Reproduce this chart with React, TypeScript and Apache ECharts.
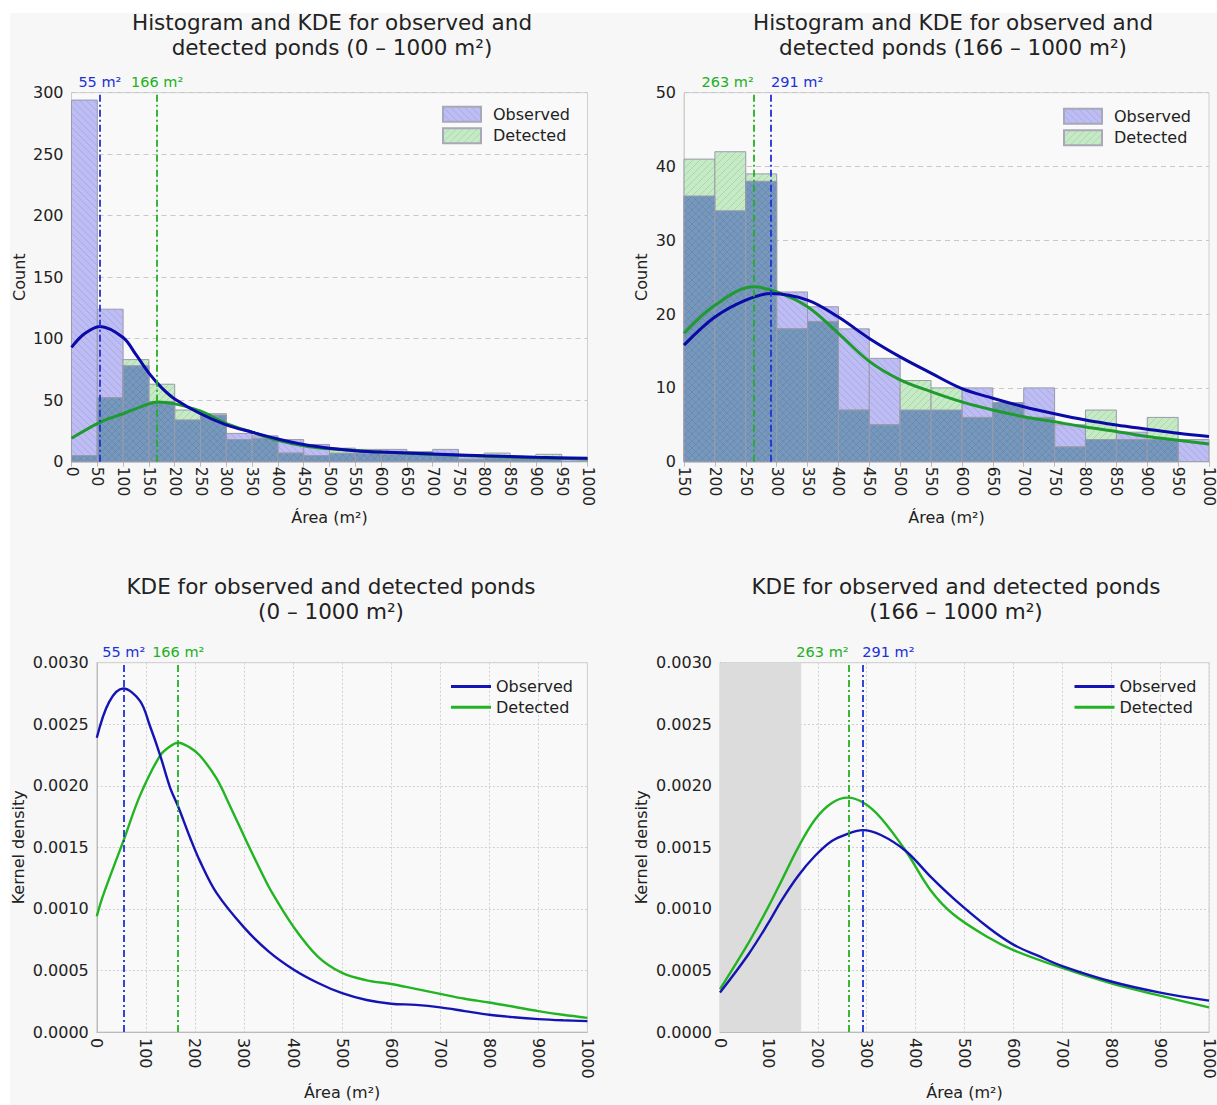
import React, { useEffect, useRef } from 'react';
import * as echarts from 'echarts';

const FONT = 'DejaVu Sans';

// ---------- Histogram data (top-left: 0 – 1000 m²) ----------
const tlBinEdges = [0, 50, 100, 150, 200, 250, 300, 350, 400, 450, 500, 550, 600, 650, 700, 750, 800, 850, 900, 950, 1000];
const tlObserved = [294, 124, 78, 49, 34, 38, 23, 21, 18, 14, 7, 7, 10, 8, 10, 5, 3, 4, 3, 3];
const tlDetected = [5, 52, 83, 63, 42, 39, 18, 19, 7, 5, 11, 10, 6, 8, 6, 2, 7, 3, 6, 0];

// ---------- Histogram data (top-right: 166 – 1000 m²) ----------
const trBinEdges = [150, 200, 250, 300, 350, 400, 450, 500, 550, 600, 650, 700, 750, 800, 850, 900, 950, 1000];
const trObserved = [36, 34, 38, 23, 21, 18, 14, 7, 7, 10, 8, 10, 5, 3, 4, 3, 3];
const trDetected = [41, 42, 39, 18, 19, 7, 5, 11, 10, 6, 8, 6, 2, 7, 3, 6, 0];

// ---------- KDE curves scaled to counts (top-left) ----------
const tlObsKdeX = [0, 25, 55, 100, 125, 150, 175, 200, 250, 300, 350, 400, 450, 500, 550, 600, 700, 800, 900, 1000];
const tlObsKdeY = [93, 104, 110, 101, 87, 72, 60, 51, 39, 30, 24, 18.5, 14, 11, 9, 7.8, 6.3, 4.8, 3.6, 2.8];
const tlDetKdeX = [0, 55, 100, 150, 166, 200, 250, 300, 350, 400, 450, 500, 600, 700, 800, 900, 1000];
const tlDetKdeY = [19, 32, 39, 47, 48.5, 47, 41, 31, 24, 17.5, 13, 10.5, 7.8, 6, 4.5, 3.2, 2.2];

// ---------- KDE curves scaled to counts (top-right) ----------
const trObsKdeX = [150, 200, 250, 291, 350, 400, 450, 500, 550, 600, 650, 700, 750, 800, 850, 900, 950, 1000];
const trObsKdeY = [15.8, 19.6, 21.9, 22.8, 21.9, 19.6, 16.7, 14.2, 12, 9.9, 8.6, 7.45, 6.5, 5.65, 4.97, 4.4, 3.85, 3.4];
const trDetKdeX = [150, 200, 263, 300, 350, 400, 450, 500, 550, 600, 650, 700, 750, 800, 850, 900, 950, 1000];
const trDetKdeY = [17.4, 21.2, 23.7, 23, 21, 17.4, 13.6, 11.1, 9.5, 8.1, 7, 6.1, 5.4, 4.7, 4.1, 3.4, 2.9, 2.4];

// ---------- Kernel density (bottom-left: 0 – 1000 m²) ----------
const blObsX = [0, 25, 54, 88, 108, 129, 149, 166, 190, 210, 244, 300, 350, 400, 450, 500, 550, 600, 650, 700, 750, 800, 850, 900, 950, 1000];
const blObsY = [0.00239, 0.00268, 0.00279, 0.00269, 0.00249, 0.00225, 0.00199, 0.00183, 0.00158, 0.00139, 0.00113, 0.00085, 0.000655, 0.00051, 0.0004, 0.000315, 0.00026, 0.00023, 0.00022, 0.0002, 0.00017, 0.00014, 0.00012, 0.000105, 0.000095, 0.000088];
const blDetX = [0, 12, 54, 88, 129, 149, 166, 190, 210, 244, 271, 305, 339, 356, 400, 450, 500, 550, 600, 650, 700, 750, 800, 850, 900, 950, 1000];
const blDetY = [0.00094, 0.0011, 0.00155, 0.00192, 0.002246, 0.00232, 0.00235, 0.00231, 0.002246, 0.00206, 0.00184, 0.00155, 0.00127, 0.00114, 0.00086, 0.000615, 0.00048, 0.00042, 0.00039, 0.00035, 0.00031, 0.00027, 0.00024, 0.000205, 0.00017, 0.00014, 0.000115];

// ---------- Kernel density (bottom-right: 166 – 1000 m²) ----------
const brObsX = [0, 58, 98, 126, 160, 194, 228, 261, 292, 329, 380, 431, 479, 550, 600, 650, 700, 800, 900, 1000];
const brObsY = [0.000321, 0.00063, 0.00088, 0.00107, 0.00127, 0.00143, 0.00155, 0.00161, 0.00164, 0.0016, 0.00147, 0.00126, 0.00108, 0.000845, 0.00071, 0.00062, 0.000535, 0.00041, 0.00032, 0.000255];
const brDetX = [0, 58, 98, 126, 160, 194, 228, 261, 295, 329, 380, 431, 479, 550, 600, 700, 800, 900, 1000];
const brDetY = [0.000348, 0.000722, 0.00101, 0.00123, 0.0015, 0.001724, 0.001858, 0.001904, 0.001858, 0.001738, 0.00147, 0.00115, 0.00095, 0.000765, 0.000665, 0.00052, 0.000395, 0.000295, 0.0002];

// ---------- Modes / thresholds ----------
const obsModeAll = 55;
const detModeAll = 166;
const obsModeSub = 291;
const detModeSub = 263;
const subsetStart = 166;

// ---------- Ticks ----------
const countTicksTL = { min: 0, max: 300, interval: 50 };
const countTicksTR = { min: 0, max: 50, interval: 10 };
const densityTicks = { min: 0, max: 0.003, interval: 0.0005 };

const C_PURPLE = '#bdbdf3';
const C_GREEN = '#c6eac6';
const C_OVERLAP = '#7798bd';
const C_EDGE = '#9a9aaa';
const C_BLUE_CURVE = '#0a0aa8';
const C_GREEN_CURVE = '#1f9a2f';
const C_BLUE_KDE = '#1414b4';
const C_GREEN_KDE = '#22b422';
const C_BLUE_MARK = '#2030d8';
const C_GREEN_MARK = '#22b022';
const TXT = '#222';

// Hatch patterns (canvas tiles) for the histogram fills
function hatch(bg: string, line: string, back: boolean, fwd: boolean): any {
  try {
    const s = 7;
    const cv = document.createElement('canvas');
    cv.width = s;
    cv.height = s;
    const ctx = cv.getContext('2d');
    if (!ctx) return bg;
    ctx.fillStyle = bg;
    ctx.fillRect(0, 0, s, s);
    ctx.strokeStyle = line;
    ctx.lineWidth = 1;
    const seg = (x0: number, y0: number, x1: number, y1: number) => {
      ctx.beginPath();
      ctx.moveTo(x0, y0);
      ctx.lineTo(x1, y1);
      ctx.stroke();
    };
    if (fwd) {
      seg(-1, s + 1, s + 1, -1);
      seg(-1, 1, 1, -1);
      seg(s - 1, s + 1, s + 1, s - 1);
    }
    if (back) {
      seg(-1, -1, s + 1, s + 1);
      seg(s - 1, -1, s + 1, 1);
      seg(-1, s - 1, 1, s + 1);
    }
    return { image: cv, repeat: 'repeat' };
  } catch (e) {
    return bg;
  }
}

const FILL_PURPLE = hatch(C_PURPLE, 'rgba(120,120,200,0.28)', true, false);
const FILL_GREEN = hatch(C_GREEN, 'rgba(90,170,90,0.28)', false, true);
const FILL_OVERLAP = hatch(C_OVERLAP, 'rgba(70,90,130,0.2)', true, true);

function pairs(xs: number[], ys: number[]) {
  return xs.map((x, i) => [x, ys[i]]);
}

function binData(edges: number[], counts: number[]) {
  return counts.map((c, i) => [edges[i], edges[i + 1], c]);
}

function makeRenderBin(fill: any) {
  return (params: any, api: any) => {
    const x0 = api.value(0);
    const x1 = api.value(1);
    const y = api.value(2);
    if (!y) return null;
    const p0 = api.coord([x0, y]);
    const p1 = api.coord([x1, 0]);
    return {
      type: 'rect',
      shape: { x: p0[0], y: p0[1], width: p1[0] - p0[0], height: p1[1] - p0[1] },
      style: { fill, stroke: C_EDGE, lineWidth: 1 },
    };
  };
}

function markLineCfg(value: number, color: string, align?: string) {
  return {
    symbol: ['none', 'none'],
    silent: true,
    data: [{ xAxis: value }],
    lineStyle: { color, type: [7, 3, 2, 3], width: 1.8 },
    label: {
      show: true,
      position: 'end',
      distance: 3,
      formatter: value + ' m²',
      color,
      fontSize: 14.5,
      fontFamily: FONT,
      ...(align ? { align } : {}),
    },
  };
}

function titleGraphic(text: string, cx: number, top: number) {
  return {
    type: 'text',
    x: cx,
    y: top,
    style: {
      text,
      align: 'center',
      verticalAlign: 'top',
      fontSize: 21.5,
      fontFamily: FONT,
      lineHeight: 25,
      fill: TXT,
    },
  };
}

const xLabelFmt = (v: number) => String(v);

const SMOOTH = 0.35;

interface HistCfg {
  title: string;
  titleX: number;
  grid: any;
  xMin: number;
  ticks: { min: number; max: number; interval: number };
  edges: number[];
  obs: number[];
  det: number[];
  obsKde: number[][];
  detKde: number[][];
  obsMode: number;
  detMode: number;
  obsAlign?: string;
  detAlign?: string;
  legendLeft: number;
  legendTop: number;
  yNameGap: number;
}

function histOption(c: HistCfg) {
  const overlap = c.obs.map((o, i) => Math.min(o, c.det[i]));
  return {
    animation: false,
    textStyle: { fontFamily: FONT },
    graphic: [titleGraphic(c.title, c.titleX, 9.5)],
    grid: { ...c.grid, show: true, borderColor: '#cfcfcf', borderWidth: 1, backgroundColor: '#f9f9f9' },
    legend: {
      orient: 'vertical',
      left: c.legendLeft,
      top: c.legendTop,
      padding: 0,
      itemWidth: 38,
      itemHeight: 15,
      itemGap: 4.5,
      icon: 'rect',
      data: ['Observed', 'Detected'],
      textStyle: { fontSize: 16, fontFamily: FONT, color: TXT, padding: [0, 0, 0, 7] },
    },
    xAxis: {
      type: 'value',
      min: c.xMin,
      max: 1000,
      interval: 50,
      name: 'Área (m²)',
      nameLocation: 'middle',
      nameGap: 48,
      nameMoveOverlap: false,
      nameTextStyle: { fontSize: 16, fontFamily: FONT, color: TXT },
      axisLine: { show: true, lineStyle: { color: '#bbbbbb' } },
      axisTick: { show: true, length: 5, lineStyle: { color: '#bbbbbb' } },
      axisLabel: { rotate: -90, fontSize: 15.5, fontFamily: FONT, color: TXT, margin: 5, formatter: xLabelFmt },
      splitLine: { show: false },
    },
    yAxis: {
      type: 'value',
      min: c.ticks.min,
      max: c.ticks.max,
      interval: c.ticks.interval,
      name: 'Count',
      nameLocation: 'middle',
      nameGap: c.yNameGap,
      nameMoveOverlap: false,
      nameTextStyle: { fontSize: 16, fontFamily: FONT, color: TXT },
      axisLine: { show: true, lineStyle: { color: '#cfcfcf' } },
      axisTick: { show: false },
      axisLabel: { fontSize: 16, fontFamily: FONT, color: TXT, margin: 8 },
      splitLine: { show: true, lineStyle: { color: '#c8c8c8', type: [5, 4], width: 1 } },
    },
    series: [
      {
        name: 'Observed',
        type: 'custom',
        renderItem: makeRenderBin(FILL_PURPLE),
        encode: { x: [0, 1], y: 2 },
        itemStyle: { color: FILL_PURPLE, borderColor: '#a8a8b8', borderWidth: 1 },
        data: binData(c.edges, c.obs),
        z: 1,
      },
      {
        name: 'Detected',
        type: 'custom',
        renderItem: makeRenderBin(FILL_GREEN),
        encode: { x: [0, 1], y: 2 },
        itemStyle: { color: FILL_GREEN, borderColor: '#a8a8b8', borderWidth: 1 },
        data: binData(c.edges, c.det),
        z: 1,
      },
      {
        name: 'overlap',
        type: 'custom',
        renderItem: makeRenderBin(FILL_OVERLAP),
        encode: { x: [0, 1], y: 2 },
        itemStyle: { color: C_OVERLAP },
        data: binData(c.edges, overlap),
        z: 1,
      },
      {
        name: 'KDE detected',
        type: 'line',
        data: c.detKde,
        smooth: SMOOTH,
        symbol: 'none',
        lineStyle: { color: C_GREEN_CURVE, width: 3 },
        itemStyle: { color: C_GREEN_CURVE },
        z: 3,
        markLine: markLineCfg(c.detMode, C_GREEN_MARK, c.detAlign),
      },
      {
        name: 'KDE observed',
        type: 'line',
        data: c.obsKde,
        smooth: SMOOTH,
        symbol: 'none',
        lineStyle: { color: C_BLUE_CURVE, width: 3 },
        itemStyle: { color: C_BLUE_CURVE },
        z: 4,
        markLine: markLineCfg(c.obsMode, C_BLUE_MARK, c.obsAlign),
      },
    ],
  };
}

interface KdeCfg {
  title: string;
  titleX: number;
  grid: any;
  obs: number[][];
  det: number[][];
  obsMode: number;
  detMode: number;
  obsAlign?: string;
  detAlign?: string;
  shadeTo?: number;
  legendLeft: number;
  yNameGap: number;
}

function kdeOption(c: KdeCfg) {
  return {
    animation: false,
    textStyle: { fontFamily: FONT },
    graphic: [titleGraphic(c.title, c.titleX, 22)],
    grid: { ...c.grid, show: true, borderColor: '#cfcfcf', borderWidth: 1, backgroundColor: '#f9f9f9' },
    legend: {
      orient: 'vertical',
      left: c.legendLeft,
      top: 126.5,
      padding: 0,
      itemWidth: 40,
      itemHeight: 3,
      itemGap: 4.8,
      icon: 'rect',
      data: ['Observed', 'Detected'],
      textStyle: { fontSize: 16, fontFamily: FONT, color: TXT },
    },
    xAxis: {
      type: 'value',
      min: 0,
      max: 1000,
      interval: 100,
      name: 'Área (m²)',
      nameLocation: 'middle',
      nameGap: 52,
      nameMoveOverlap: false,
      nameTextStyle: { fontSize: 16, fontFamily: FONT, color: TXT },
      axisLine: { show: true, lineStyle: { color: '#bbbbbb' } },
      axisTick: { show: false },
      axisLabel: { rotate: -90, fontSize: 16, fontFamily: FONT, color: TXT, margin: 6, formatter: xLabelFmt },
      splitLine: { show: true, lineStyle: { color: '#d0d0d0', type: [2, 2], width: 1 } },
    },
    yAxis: {
      type: 'value',
      min: densityTicks.min,
      max: densityTicks.max,
      interval: densityTicks.interval,
      name: 'Kernel density',
      nameLocation: 'middle',
      nameGap: c.yNameGap,
      nameMoveOverlap: false,
      nameTextStyle: { fontSize: 16, fontFamily: FONT, color: TXT },
      axisLine: { show: true, lineStyle: { color: '#bbbbbb' } },
      axisTick: { show: false },
      axisLabel: { fontSize: 16, fontFamily: FONT, color: TXT, margin: 8, formatter: (v: number) => v.toFixed(4) },
      splitLine: { show: true, lineStyle: { color: '#d0d0d0', type: [2, 2], width: 1 } },
    },
    series: [
      {
        name: 'Detected',
        type: 'line',
        data: c.det,
        smooth: SMOOTH,
        symbol: 'none',
        lineStyle: { color: C_GREEN_KDE, width: 2.4 },
        itemStyle: { color: C_GREEN_KDE },
        z: 3,
        markLine: markLineCfg(c.detMode, C_GREEN_MARK, c.detAlign),
        ...(c.shadeTo !== undefined
          ? {
              markArea: {
                silent: true,
                itemStyle: { color: '#dcdcdc' },
                data: [[{ xAxis: 0 }, { xAxis: c.shadeTo }]],
              },
            }
          : {}),
      },
      {
        name: 'Observed',
        type: 'line',
        data: c.obs,
        smooth: SMOOTH,
        symbol: 'none',
        lineStyle: { color: C_BLUE_KDE, width: 2.4 },
        itemStyle: { color: C_BLUE_KDE },
        z: 4,
        markLine: markLineCfg(c.obsMode, C_BLUE_MARK, c.obsAlign),
      },
    ],
  };
}

function Chart({ option, style }: { option: any; style: React.CSSProperties }) {
  const ref = useRef<HTMLDivElement>(null);
  useEffect(() => {
    if (!ref.current) return;
    const chart = echarts.init(ref.current, null, { renderer: 'svg' });
    chart.setOption(option);
    return () => chart.dispose();
  }, [option]);
  return <div ref={ref} style={{ position: 'absolute', ...style }} />;
}

const optTL = histOption({
  title: 'Histogram and KDE for observed and\ndetected ponds (0 – 1000 m²)',
  titleX: 332,
  grid: { left: 71.5, top: 92.7, width: 516, height: 369 },
  xMin: 0,
  ticks: countTicksTL,
  edges: tlBinEdges,
  obs: tlObserved,
  det: tlDetected,
  obsKde: pairs(tlObsKdeX, tlObsKdeY),
  detKde: pairs(tlDetKdeX, tlDetKdeY),
  obsMode: obsModeAll,
  detMode: detModeAll,
  legendLeft: 442,
  legendTop: 105.8,
  yNameGap: 44,
});

const optTR = histOption({
  title: 'Histogram and KDE for observed and\ndetected ponds (166 – 1000 m²)',
  titleX: 345,
  grid: { left: 76, top: 92.7, width: 527, height: 369 },
  xMin: 150,
  ticks: countTicksTR,
  edges: trBinEdges,
  obs: trObserved,
  det: trDetected,
  obsKde: pairs(trObsKdeX, trObsKdeY),
  detKde: pairs(trDetKdeX, trDetKdeY),
  obsMode: obsModeSub,
  detMode: detModeSub,
  obsAlign: 'left',
  detAlign: 'right',
  legendLeft: 455,
  legendTop: 107.7,
  yNameGap: 35,
});

const optBL = kdeOption({
  title: 'KDE for observed and detected ponds\n(0 – 1000 m²)',
  titleX: 331,
  grid: { left: 96.8, top: 110.7, width: 490.6, height: 374 },
  obs: pairs(blObsX, blObsY),
  det: pairs(blDetX, blDetY),
  obsMode: obsModeAll,
  detMode: detModeAll,
  legendLeft: 451,
  yNameGap: 70,
});

const optBR = kdeOption({
  title: 'KDE for observed and detected ponds\n(166 – 1000 m²)',
  titleX: 348,
  grid: { left: 112, top: 110.7, width: 491, height: 374 },
  obs: pairs(brObsX, brObsY),
  det: pairs(brDetX, brDetY),
  obsMode: obsModeSub,
  detMode: detModeSub,
  obsAlign: 'left',
  detAlign: 'right',
  shadeTo: subsetStart,
  legendLeft: 466.5,
  yNameGap: 71,
});

export default function App() {
  return (
    <div
      style={{
        position: 'fixed',
        left: 0,
        top: 0,
        width: 1217,
        height: 1105,
        background: '#ffffff',
        overflow: 'hidden',
      }}
    >
      <div style={{ position: 'absolute', left: 10, top: 13, right: 0, bottom: 0, background: '#f7f7f7' }} />
      <Chart option={optTL} style={{ left: 0, top: 0, width: 608, height: 552 }} />
      <Chart option={optTR} style={{ left: 608, top: 0, width: 609, height: 552 }} />
      <Chart option={optBL} style={{ left: 0, top: 552, width: 608, height: 553 }} />
      <Chart option={optBR} style={{ left: 608, top: 552, width: 609, height: 553 }} />
    </div>
  );
}
